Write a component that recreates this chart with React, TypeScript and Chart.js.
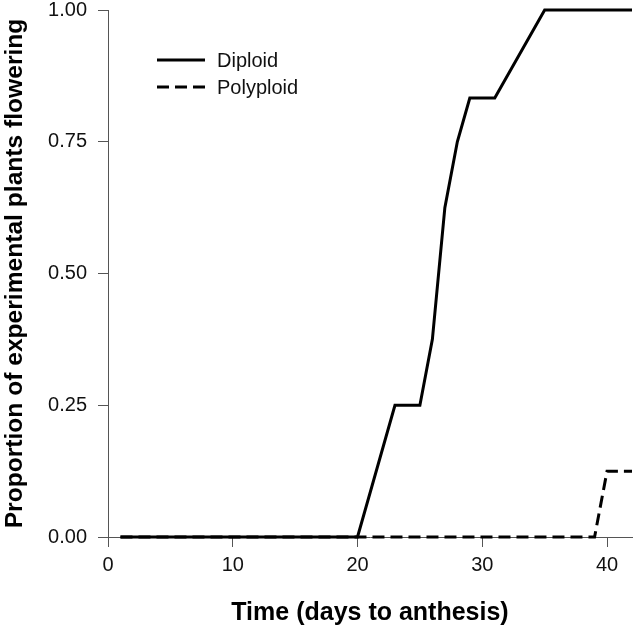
import React, { useEffect, useRef } from "react";
import { Chart, registerables } from "chart.js";

Chart.register(...registerables);

const diploidDays = [1, 20, 23, 25, 26, 27, 28, 29, 31, 35, 42];
const diploidProp = [0, 0, 0.25, 0.25, 0.375, 0.625, 0.75, 0.833, 0.833, 1, 1];
const polyploidDays = [1, 39, 40, 42];
const polyploidProp = [0, 0, 0.125, 0.125];
const seriesLabels = ["Diploid", "Polyploid"];
const xTickValues = [0, 10, 20, 30, 40];
const xTitle = "Time (days to anthesis)";
const yTitle = "Proportion of experimental plants flowering";

const FONT = 'Arial, "Liberation Sans", sans-serif';

const insideLegend = {
  id: "insideLegend",
  afterDraw(chart: any) {
    const { ctx, chartArea } = chart;
    const x0 = chartArea.left + 49;
    const y0 = chartArea.top + 50;
    chart.data.datasets.forEach((ds: any, i: number) => {
      const y = y0 + i * 27;
      ctx.save();
      ctx.strokeStyle = ds.borderColor;
      ctx.lineWidth = ds.borderWidth;
      ctx.setLineDash(ds.borderDash || []);
      ctx.beginPath();
      ctx.moveTo(x0, y);
      ctx.lineTo(x0 + 48, y);
      ctx.stroke();
      ctx.setLineDash([]);
      ctx.fillStyle = "#111";
      ctx.font = `20px ${FONT}`;
      ctx.textBaseline = "middle";
      ctx.textAlign = "left";
      ctx.fillText(ds.label, x0 + 60, y + 1);
      ctx.restore();
    });
  },
};

export default function App() {
  const ref = useRef<HTMLCanvasElement | null>(null);
  useEffect(() => {
    if (!ref.current) return;
    const chart = new Chart(ref.current, {
      type: "line",
      data: {
        datasets: [
          {
            label: seriesLabels[0],
            data: diploidDays.map((d, i) => ({ x: d, y: diploidProp[i] })),
            borderColor: "#000",
            borderWidth: 3,
            pointRadius: 0,
            tension: 0,
            fill: false,
            clip: false,
          },
          {
            label: seriesLabels[1],
            data: polyploidDays.map((d, i) => ({ x: d, y: polyploidProp[i] })),
            borderColor: "#000",
            borderWidth: 3,
            borderDash: [12, 6],
            pointRadius: 0,
            tension: 0,
            fill: false,
            clip: false,
          },
        ],
      },
      options: {
        responsive: false,
        animation: false,
        layout: { padding: { left: 0, right: 4, top: 10, bottom: 0 } },
        plugins: {
          legend: { display: false },
          tooltip: { enabled: false },
        },
        scales: {
          x: {
            type: "linear",
            min: 0,
            max: 42,
            afterFit: (s: any) => {
              s.height = 91;
              s.paddingLeft = 0;
              s.paddingRight = 0;
            },
            afterBuildTicks: (s: any) => {
              s.ticks = xTickValues.map((v) => ({ value: v }));
            },
            ticks: {
              font: { family: FONT, size: 20 },
              color: "#111",
              padding: 6,
              maxRotation: 0,
              autoSkip: false,
            },
            grid: { drawOnChartArea: false, drawTicks: true, tickLength: 10, color: "#555" },
            border: { color: "#555", width: 1 },
            title: {
              display: true,
              text: xTitle,
              font: { family: FONT, size: 25, weight: "bold" },
              color: "#000",
              padding: { top: 0, bottom: 0 },
            },
          },
          y: {
            type: "linear",
            min: 0,
            max: 1,
            afterFit: (s: any) => {
              s.width = 108;
              s.paddingTop = 0;
              s.paddingBottom = 0;
            },
            ticks: {
              stepSize: 0.25,
              font: { family: FONT, size: 20 },
              color: "#111",
              padding: 11,
              callback: (v: any) => Number(v).toFixed(2),
            },
            grid: { drawOnChartArea: false, drawTicks: true, tickLength: 10, color: "#555" },
            border: { color: "#555", width: 1 },
            title: {
              display: true,
              text: yTitle,
              font: { family: FONT, size: 24.6, weight: "bold" },
              color: "#000",
              padding: { top: 0, bottom: 0 },
            },
          },
        },
      },
      plugins: [insideLegend],
    });
    return () => chart.destroy();
  }, []);
  return (
    <div style={{ position: "absolute", left: 0, top: 0, width: 636, height: 628, background: "#fff" }}>
      <canvas ref={ref} width={636} height={628} />
    </div>
  );
}
